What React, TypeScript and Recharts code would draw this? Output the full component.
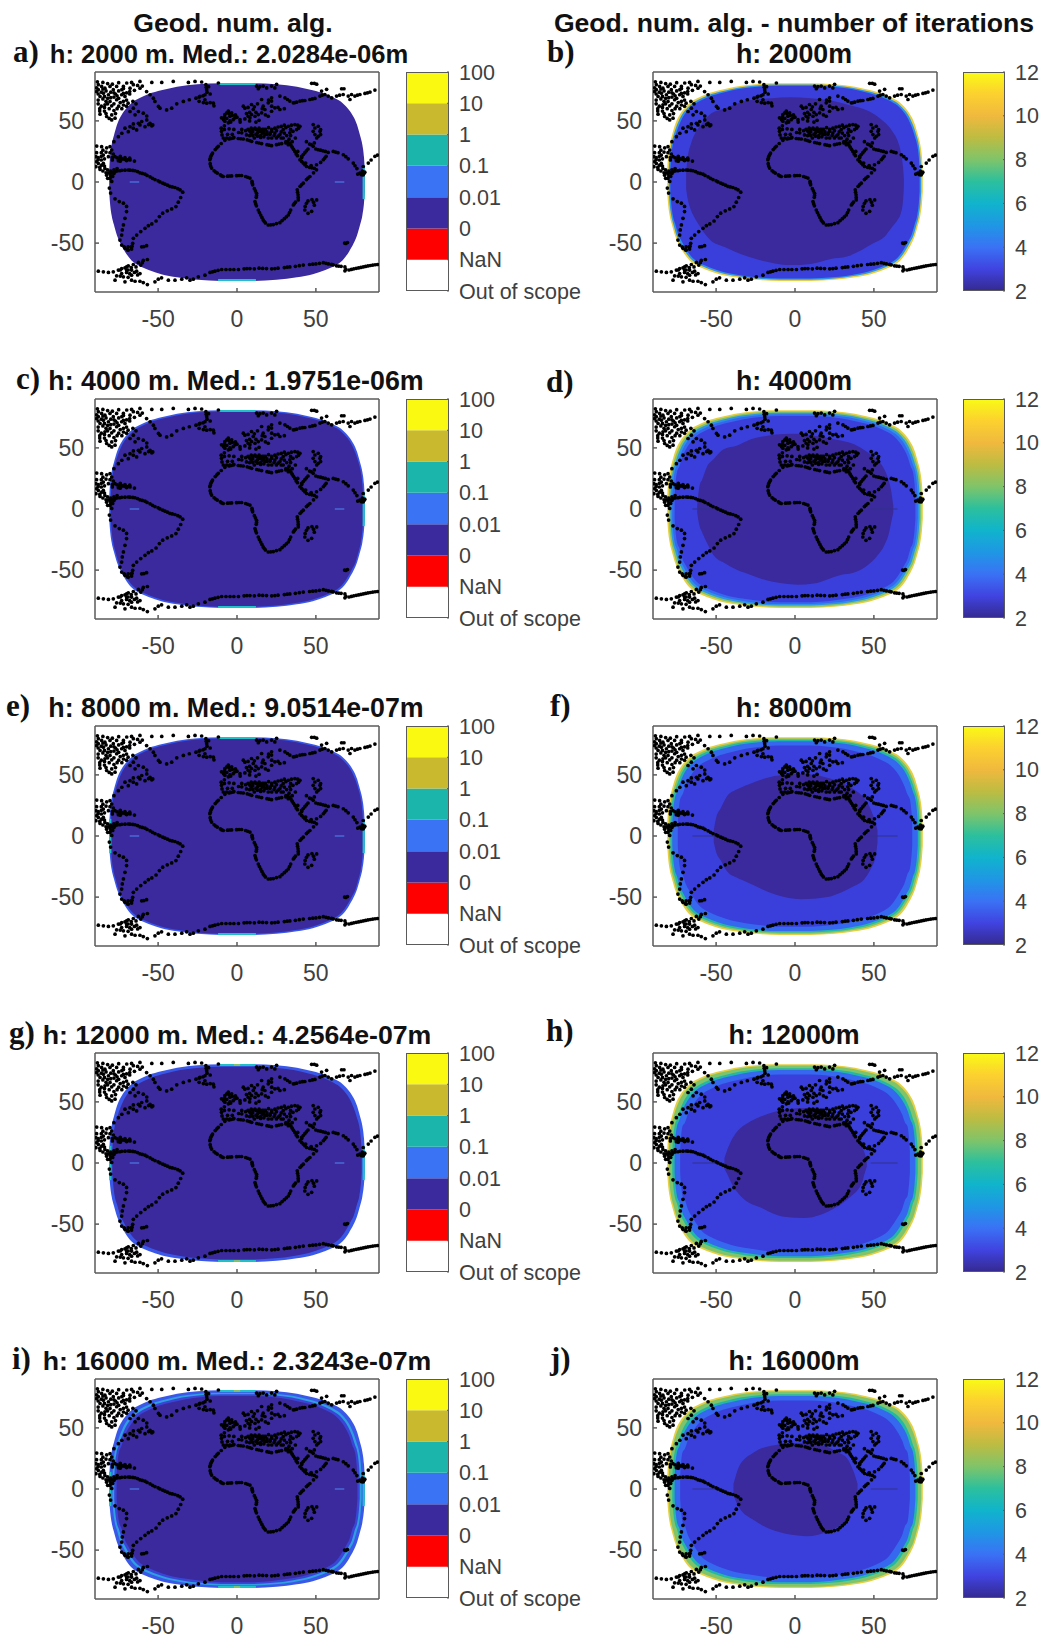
import React from "react";
import { ComposedChart, Area, Scatter, XAxis, YAxis, Bar, ReferenceLine } from "recharts";

type Pt = [number, number];
type Row = [number, number, number];

const arctic: Pt[] = [[-87.9,79.6],[-85.8,78.2],[-87.9,75.5],[-83.7,76.8],[-80.5,78.2],[-84.7,72.7],[-86.8,70],[-81.5,71.4],[-78.4,75.5],[-76.3,78.2],[-72,78.2],[-69.9,81],[-66.8,81.5],[-67.8,76.8],[-73.1,71.4],[-71,70],[-76.3,67.3],[-80.5,65.9],[-83.7,63.2],[-79.4,62.3],[-86.8,55.5],[-82.6,53.6],[-79.4,54.9],[-79.4,50.8],[-77.3,52.2],[-88.5,82],[-85,81.5],[-82,80.5],[-79,80],[-75,81.3],[-89,77],[-86,73.5],[-83,74.5],[-80,73.5],[-77,72],[-75,74.5],[-73,75.5],[-70,73],[-68,72],[-88,67],[-85,68],[-82,68.5],[-78,69.5],[-75,68.5],[-72,66],[-69,64.5],[-66,66],[-64,64],[-88,64],[-86,62],[-81,60],[-78,58.5],[-75,62],[-72,63],[-84,58],
[-61.5,82.3],[-54,81.5],[-47.7,81.5],[-40.4,82.3],[-30.8,81.5],[-26.6,82.3],[-22.4,81.8],[-11.8,81],[-65.7,79.6],[-61.5,76.8],[-57.3,74],[-55.1,71.4],[-53,68.6],[-52,65.9],[-49.8,61.8],[-48.8,60.4],[-44.6,59],[-41.4,60.4],[-38.2,64],[-34,65.9],[-30.2,67.3],[-26,68.6],[-23.5,70],[-20.3,71.4],[-19.2,75.5],[-19.7,79.6],[-19,73.5],[-19.5,77.5],[-21.5,70.5],[-20.3,67.3],[-19.2,64.5],[-15,64.5],[-14.6,62.3],[-21.3,65],[-24,69.5],
[-88,72],[-84,70],[-80,69],[-76,70.5],[-72,72.5],[-68,74],[-65,75],[-83,66],[-78,64],[-74,65],[-70,67],[-87,60],[-84,61],[-82,64],[-76,60],[-73,60],[-70,62],[-85,76],[-78,73],[-72,76.5],[-63,79],[-60,78.5],[-89,74],[-87,58],[-83,56],[-81,52],[-77,56],
[-18,78],[-17,72],[-17,65],[-24,66]];
const northAmerica: Pt[] = [[-53.4,46.7],[-55.1,48],[-57.2,50.8],[-60.4,49.5],[-62.5,48],[-65.7,47.5],[-67.8,45.3],[-71,44],[-73,39.9],[-75.2,37.1],[-78,33],[-80.5,28.9],[-58.3,45.3],[-63.6,42.6],[-61.5,46.7],[-65.7,44],[-68.9,41.2],[-57.2,54],[-59.4,56.3],[-62.5,57.7],[-65.7,60.4],[-67.8,57.7],[-64.6,55],[-54,46],[-56,47],
[-88.9,29.4],[-85.8,28.9],[-82.6,28],[-79.4,26.2],[-78.4,22.9],[-80.5,24],[-77.3,20.7],[-74.2,19.3],[-71,18.5],[-67.8,18],[-65,17.1],[-75.2,17.4],[-81.5,20.7],[-84.7,22],[-89.4,20.7],[-88.9,16.6],[-89.4,12.5],[-86.8,10.3],[-87.9,15.2],[-85.8,13.8],[-83.7,11],[-84.7,15.2],[-81.5,7.5],[-82.6,5.6],[-80.5,2.9],[-72.5,18.8],[-69.5,18.2],[-79,20],[-76,19.8],[-86,18],[-88,18.5],
[-85,26],[-83,24.5],[-86,24],[-79,18],[-74,17],[-70,17.5],[-84,19],[-87,12],[-85,9],[-83,7.5],[-84,13],[-82,10],[-80,9],[-78,7],[-88,20],[-86,21],[-74,21],[-71,20],[-68,19.5],[-73,19],[-78,10],[-76,11],[-89,24],[-82,3],[-80,5]];
const southAmerica: Pt[] = [[-80.5,7],[-77.3,8.4],[-74.2,9.2],[-71,9.7],[-67.8,9.7],[-64.6,9.2],[-61.5,7.5],[-58.3,6.4],[-55.1,4.2],[-52,2],[-48.8,0.1],[-45.6,-1.8],[-42.5,-3.6],[-39.3,-4.5],[-36.1,-6.4],[-34.4,-8.3],[-35.7,-12.7],[-37.2,-16.5],[-38.7,-20.1],[-41.4,-22],[-44.2,-23.6],[-47.1,-25.5],[-49.2,-28.3],[-51.3,-31.9],[-54,-34.3],[-56.2,-35.7],[-58.3,-37.9],[-61,-40.6],[-63.6,-43.4],[-65.7,-46.1],[-66.1,-50.2],[-66.8,-54.9],[-68.9,-55.7],[-71,-54.3],[-73.1,-51.6],[-74.2,-47.5],[-73.1,-43.4],[-72.7,-39.2],[-72,-35.1],[-71,-29.7],[-70,-24.2],[-70,-20],[-72,-17.3],[-74.6,-16],[-77.3,-13.8],[-80.1,-9.1],[-80.9,-5],[-79.4,0.5],[-78.8,4.6],[-60.4,-53],[-57.3,-52.1],[-59,-52.8],[-69,-53],[-67,-53],
[-79,7.5],[-76,9],[-73,9.6],[-69,9.8],[-66,9.5],[-63,8.5],[-60,7],[-57,5.4],[-53.5,3],[-50,1],[-47,-1],[-44,-2.6],[-41,-4],[-37.5,-5.5],[-69.5,-55.5],[-71.5,-53],[-66.5,-52.5]];
const antarctica: Pt[] = [[-87.9,-73],[-84.7,-73.5],[-81.5,-74],[-78.4,-73.5],[-75.2,-72.1],[-73.1,-70.8],[-71,-70.2],[-68.9,-68.6],[-65.7,-67.5],[-62.5,-65.8],[-59.4,-64.2],[-56.8,-63.4],[-70,-72.1],[-66.8,-72.1],[-63.6,-73],[-61.5,-74.9],[-73.1,-74.9],[-76.3,-76.8],[-77.3,-80.3],[-72,-77.6],[-66.8,-76.2],[-71,-81.7],[-66.8,-80.3],[-64.6,-81.2],[-61.5,-81.2],[-59.4,-82.3],[-56.8,-83.9],[-52,-81.7],[-49.9,-79.5],[-47.8,-78.4],[-43.5,-80.3],[-39.3,-80.3],[-35,-79.5],[-31.9,-78.4],[-27.7,-79.5],[-29.8,-80.3],[-24.5,-77.6],[-20.3,-76.2],[-17.1,-74],[-14,-73],[-9.7,-71.6],[-4.4,-71.6],[0.9,-71.6],[4.5,-71],[8.2,-70.8],[11,-71],[14,-70.5],[18.7,-70.8],[22,-71],[26,-70.5],[30,-70],[33.5,-69.5],[37,-69],[42,-68],[46,-67.5],[50,-67],[54.7,-66],[58,-67],[61,-67.8],[63.1,-68.6],[66,-69],[68.4,-69.5],[69,-71.5],[68.4,-72.7],[71,-72],[74,-71],[77,-70.3],[80,-69.5],[83,-68.7],[86,-68],[89,-67.5],[68.2,-50],[70,-49.5],[69,-50.3],
[-70,-74],[-68,-75],[-65,-74],[-63,-76],[-67,-70],[-64,-69.5],[-61,-68],[-74,-77],[-69,-78],[-74,-72],[-60,-66],[-69,-72],[-70,-69.5],
[6.3,-70.8],[16.3,-70.7],[24,-70.8],[31.8,-69.7],[39.5,-68.5],[48,-67.2],[52.3,-66.5],[56.4,-66.5],[60,-67.4],[64.5,-68.8],[72.5,-71.5],[75.5,-70.6],[78.5,-69.9],[81.5,-69.1],[84.5,-68.3],[87.5,-67.7],[-7,-71.6],[-2,-71.6],[-12,-72.3],[-15.5,-73.5]];
const africa: Pt[] = [[-7.7,34.1],[-10,31.5],[-11.9,29.2],[-13.8,26.5],[-15.5,23.7],[-16.6,21],[-17.2,18.2],[-17,15],[-16.1,11.4],[-14.5,9.2],[-12.5,7.3],[-10.5,5.8],[-8.7,4.5],[-6,4.8],[-3.4,5],[-0.3,5.2],[2.9,5.3],[5.5,4.5],[8.2,3.2],[9.5,0.5],[9.9,-2.3],[11,-5.5],[12.4,-9.2],[12.2,-12.5],[11.4,-16],[12.3,-19.5],[13.5,-22.9],[15,-27],[16.6,-31],[18,-33.5],[19.8,-35.2],[23,-34.8],[27.2,-33.3],[30,-30],[32.5,-27],[34,-23],[35.7,-18.8],[37,-16.5],[38.8,-14.7],[38.7,-10.5],[38.2,-6.4],[40,-3.5],[42,-1],[44,2],[46.2,4.5],[48.5,7.5],[50.4,10],[49,11.2],[46,12],[44.1,12.7],[42,15.5],[39.9,18.2],[38.3,21.5],[36.7,25],[35,28.5],[33.5,31.9],[32,33],[-5,35.2],[-2.4,36],[0.8,35.6],[4,35.2],[6.5,34.5],[9.3,33.3],[12.5,32.3],[15.6,31.4],[19,30.5],[21.9,29.7],[25,30.5],[28.3,31.4],[31,32],
[44,-17.4],[43,-22.9],[45,-25.6],[47.3,-24],[43.2,-20],[49,-19],[50.5,-14.7],[47.5,-14.5],[45,-15.5],[48.5,-16.5],
[-12.8,28],[-16,22.5],[-16.9,19.5],[-16.7,13],[-13.5,8.2],[-9.6,5],[-4.7,4.9],[1.3,5.3],[6.8,3.9],[9.7,-1],[11.7,-7.3],[12.4,-11],[11.8,-17.7],[14.2,-25],[15.8,-29],[17.3,-32.3],[21.4,-35],[25,-34],[28.6,-31.6],[31.3,-28.5],[33.3,-25],[36.3,-17.7],[38.8,-12.6],[38.4,-8.4],[41,-2.2],[45,3.2],[47.5,11.6],[43,14.2],[41,16.8],[37.5,23],[35.8,26.8],[34.2,30.2],
[-3.7,35.6],[2.4,35.4],[8,33.9],[14,31.9],[20.4,30.1],[26.6,31]];
const asia: Pt[] = [[50.4,14.1],[47,13.5],[53,16],[54.7,18.2],[56.5,21],[57.8,24.2],[54.5,25.5],[51.5,26.4],[48.3,29.2],[47,30.5],[45,27],[43,24],[41,21],[46,31],[44,33],[38.5,25],[41,20],[43.5,15.5],[50,27],[49,32],
[61,25],[64,24],[67.4,22.3],[70.5,19],[73.7,15.5],[76,11],[77.9,7.3],[79,6],[80,5.9],[81,8],[80,12.7],[83.2,15.5],[85,18],[87.4,21],[89,22],[80.5,7],[79.5,9],
[48.3,47],[51.5,45.6],[52.6,41.5],[49.4,38.8],[50.5,36],[53,38.8],[49.4,44.2],[48.3,41.5],[51.5,37.4],[53,42.9],
[55.6,19.6],[56,25],[53,26],[42,22.5],[44,25.5],[62.5,24.5],[69,20.7],[74.8,13.3],[78.5,6.5],[78.8,7],[76.5,6.5]];
const europe: Pt[] = [[-9.8,41.5],[-9.5,38.5],[-8.7,36],[-6.5,36],[-4.5,36],[-2,36.5],[-10,44],[-8,46],[-5,43.5],[-2,43],[1,40.5],[3,40.2],[5.5,42],[8.2,41.5],[10,43],[11.4,44.2],[13,42.5],[14.5,41.5],[16,40],[17.7,38.8],[19.8,36],[20.9,38.8],[22,41.5],[23.5,38],[25,36],[26,37.5],[27.2,38.8],[28,41],[29.3,42.9],[31,44.5],[32.5,45.6],[34.5,46.5],[36.7,47],[38.5,46.5],[39.9,45.6],[39,44],[37.8,42.9],[35.5,41.5],[33.5,40.2],[31.5,38],[29.3,36],[31,33],[32.5,30.5],
[9,40],[10,38],[11,36],[12,39],[13,37.5],[14,44],[15,38],[16,43],[17,41],[18,43],[15,36.5],[12,43],[19,39],[24,44],[26,45],[28,45.5],[30,46.5],[22,43],[20,44.5],[10,41],[13,40],[8,38],[6,38.5],
[-9.8,52.5],[-7.7,55.2],[-5.5,58],[-3.4,56.6],[-2.4,51],[-5.5,48.4],[-7.7,49.7],[-4.5,53.8],[-1.3,52.5],[1.9,51],[5,51.6],[7.1,53.8],[9.2,55.2],[8.2,52.5],[11.4,53.8],[10.3,59.3],[13.5,55.2],[15.6,56.6],[17.7,59.3],[16.6,62],[19.8,64.8],[21.9,66.2],[24,60.7],[27.2,59.3],[21.9,57.9],[19.8,53.8],[4,62],[9.2,63.4],[15.6,67.5],[21.9,68.9],[5,60.4],[-6.5,52],[-8.5,51],[-6.5,56.5],[-4.5,50],[-3,54.5],
[27.2,70.3],[30.4,68.9],[33.5,66.2],[35.7,64.8],[37.8,65.3],[39.9,66.2],[43,66.7],[46.2,67.5],[49.4,68.4],[52.6,70.3],[55.7,71.6],[53.6,74.4],[56.8,75.8],[57.8,70.3],[60,68.9],[63.1,70.3],[66.3,76.3],[67.8,76.3],[67.3,71.6],[71.6,67.5],[72.6,71.6],[74.7,70.3],[77.9,71.6],[81.1,72.5],[84.3,73.6],[87.4,75.2],[70.5,70.3],
[12.4,78.5],[14.5,78],[16.6,78.5],[18.8,77],[21.9,78.5],[25.1,79.9],[13.5,76.3],[24,77],[47.3,80.7],[49,80.7],[50.5,80],
[-8,53],[-5,56],[-1,55],[0,53],[-4,49],[2,49],[8,50],[12,49],[14,50.5],[12,57],[8,57],[6,56],[18,55],[16,60],[22,62],[20,67],[26,61],[30,60],[7,61],[11,61.5],[13,64],
[7,43],[9,44],[3,43],[-3,39],[-6,39],[-8,43],[15,42],[17,43],[19,41],[21,40],[25,42],[24,40],[30,40],[34,43],[34,38],[33,35],[35,33],[37,36],[28,36],[22,36],[17,37],
[32,67.5],[36.7,65],[41.5,66.5],[47.8,68],[54,71],[65,71],[76.3,71],[82.7,73]];

const ringA: Row[] = [[-81,-8,10],[-80.5,-17,20],[-79.5,-27,30],[-78,-35,38],[-76,-44,47],[-74,-50,53],[-71,-57,59],[-67,-64,64.5],[-62,-68.5,68.5],[-56,-72,72],[-48,-75.5,75],[-38,-78,78],[-25,-80,80],[-10,-81,80.7],[10,-81,80.7],[25,-80,80],[38,-78,78],[48,-75.5,75],[56,-72,72],[62,-68.5,68.5],[67,-64,64.5],[71,-57,59],[74,-50,53],[76,-44,47],[78,-35,38],[79.5,-27,30],[80.5,-17,20],[81,-8,10]];
const ringB: Row[] = [[-80,-8,10],[-79.5,-17,20],[-78.5,-27,30],[-77,-35,38],[-75,-44,46],[-73,-49,52],[-70,-56,58],[-66,-63,63.5],[-61,-67.5,67.5],[-55,-71,71],[-47,-74.5,74],[-37,-77,77],[-25,-79,79],[-10,-80,79.7],[10,-80,79.7],[25,-79,79],[37,-77,77],[47,-74.5,74],[55,-71,71],[61,-67.5,67.5],[66,-63,63.5],[70,-56,58],[73,-49,52],[75,-44,46],[77,-35,38],[78.5,-27,30],[79.5,-17,20],[80,-8,10]];
const ringC: Row[] = [[-79,-8,10],[-78.5,-17,20],[-77.5,-27,30],[-76,-34,37],[-74,-43,45],[-72,-48,51],[-69,-55,57],[-65,-62,62.5],[-60,-66.5,66.5],[-54,-70,70],[-46,-73.5,73],[-36,-76,76],[-24,-78,78],[-10,-79,78.7],[10,-79,78.7],[24,-78,78],[36,-76,76],[46,-73.5,73],[54,-70,70],[60,-66.5,66.5],[65,-62,62.5],[69,-55,57],[72,-48,51],[74,-43,45],[76,-34,37],[77.5,-27,30],[78.5,-17,20],[79,-8,10]];
const ringD: Row[] = [[-77.8,-8,10],[-77.3,-17,20],[-76.3,-27,30],[-74.8,-33,36],[-72.8,-42,44],[-70.8,-47,50],[-67.8,-54,56],[-63.8,-61,61.3],[-58.8,-65.3,65.3],[-52.8,-68.8,68.8],[-44.8,-72.3,71.8],[-34.8,-74.8,74.8],[-23,-76.8,76.8],[-10,-77.8,77.5],[10,-77.8,77.5],[23,-76.8,76.8],[34.8,-74.8,74.8],[44.8,-72.3,71.8],[52.8,-68.8,68.8],[58.8,-65.3,65.3],[63.8,-61,61.3],[67.8,-54,56],[70.8,-47,50],[72.8,-42,44],[74.8,-33,36],[76.3,-27,30],[77.3,-17,20],[77.8,-8,10]];
const ringE: Row[] = [[-76.3,-8,10],[-75.8,-17,20],[-74.8,-27,30],[-73.3,-32,35],[-71.3,-41,43],[-69.3,-46,48.5],[-66.3,-52.5,54.5],[-62.3,-59.5,60],[-57.3,-63.8,63.8],[-51.3,-67.3,67.3],[-43.3,-70.8,70.3],[-33.3,-73.3,73.3],[-22,-75.3,75.3],[-10,-76.3,76],[10,-76.3,76],[22,-75.3,75.3],[33.3,-73.3,73.3],[43.3,-70.8,70.3],[51.3,-67.3,67.3],[57.3,-63.8,63.8],[62.3,-59.5,60],[66.3,-52.5,54.5],[69.3,-46,48.5],[71.3,-41,43],[73.3,-32,35],[74.8,-27,30],[75.8,-17,20],[76.3,-8,10]];
const ringF: Row[] = [[-74.3,-8,10],[-73.8,-17,20],[-72.8,-27,30],[-71.3,-31,34],[-69.3,-39,41],[-67.3,-44,46.5],[-64.3,-50.5,52.5],[-60.3,-57.5,58],[-55.3,-61.8,61.8],[-49.3,-65.3,65.3],[-41.3,-68.8,68.3],[-31.3,-71.3,71.3],[-20,-73.3,73.3],[-10,-74.3,74],[10,-74.3,74],[20,-73.3,73.3],[31.3,-71.3,71.3],[41.3,-68.8,68.3],[49.3,-65.3,65.3],[55.3,-61.8,61.8],[60.3,-57.5,58],[64.3,-50.5,52.5],[67.3,-44,46.5],[69.3,-39,41],[71.3,-31,34],[72.8,-27,30],[73.8,-17,20],[74.3,-8,10]];
const ringG: Row[] = [[-72.8,-8,10],[-72.3,-17,20],[-71.3,-27,30],[-69.8,-30,33],[-67.8,-38,40],[-65.8,-43,45],[-62.8,-49,51],[-58.8,-56,56.5],[-53.8,-60.3,60.3],[-47.8,-63.8,63.8],[-39.8,-67.3,66.8],[-29.8,-69.8,69.8],[-19,-71.8,71.8],[-10,-72.8,72.5],[10,-72.8,72.5],[19,-71.8,71.8],[29.8,-69.8,69.8],[39.8,-67.3,66.8],[47.8,-63.8,63.8],[53.8,-60.3,60.3],[58.8,-56,56.5],[62.8,-49,51],[65.8,-43,45],[67.8,-38,40],[69.8,-30,33],[71.3,-27,30],[72.3,-17,20],[72.8,-8,10]];

const darkB: Row[] = [[-69,-6,8],[-68,-14,20],[-66,-23,31],[-64,-28.5,38],[-60,-37,46],[-53.6,-47.6,55.7],[-45,-53,60],[-30,-61,66.6],[-15,-66,68.5],[-3,-68,69.3],[10,-67,68.5],[22.7,-63,66.6],[33,-61,63.5],[50,-50,55.7],[56.6,-45,49],[62,-36,41],[65,-31,34],[67,-26,25],[68.5,-15,12],[69,-4,3]];
const darkD: Row[] = [[-62,-3,3],[-60.5,-14,19],[-58.9,-19,24],[-55.7,-28,35],[-51.5,-38,41],[-45,-44,49],[-36.6,-50,52],[-28,-54,57],[-17.6,-58.6,60],[-7,-61,61.4],[1.5,-62,61.5],[12,-61,60],[29,-54,56],[37.5,-52,53],[46,-46,46.4],[52.3,-38,40],[56.5,-30,32.7],[59.7,-19,22],[60.8,-12,16],[62.3,-3,3]];
const darkF: Row[] = [[-51.5,-5,5],[-50,-13,15],[-47,-20,23],[-43,-29,32.7],[-37,-34,38],[-30,-38,42],[-13,-47.7,49],[3.6,-51.8,51],[20.5,-50,47.7],[29,-46.4,44],[37.5,-41,38],[43.8,-35.5,31],[48,-27,21.8],[51.2,-16.4,10],[52.3,-5,5]];
const darkH: Row[] = [[-44.7,-5,4],[-42.6,-10,12],[-40.9,-15,17],[-34.5,-27,28.6],[-32,-30,31],[-21.8,-36.5,38],[-7,-44,43.6],[5.7,-45,45],[16.3,-42.3,43],[20.5,-40,41],[33,-30,31],[35.4,-27.5,28.6],[42.8,-15,12],[43.8,-10,9.5],[45.5,-3,2]];
const darkJ: Row[] = [[-39,-4,4],[-37.5,-10,11],[-35.6,-14.7,18],[-26,-25.6,30],[-13.3,-34,35.7],[1.5,-38,37.6],[7.8,-38.7,37],[20.5,-35,34.4],[27,-31,30],[33.2,-24,24.8],[37.5,-14.7,13],[39.6,-5,4.4]];

const stripTop: Row[] = [[-12,79.4,81],[12,79.4,81]];
const stripBottom: Row[] = [[-12,-81,-79.4],[12,-81,-79.4]];
const stripLeft: Row[] = [[-81,-14,14],[-79.6,-14,14]];
const stripRight: Row[] = [[79.6,-14,14],[81,-14,14]];
const speckTop: Row[] = [[-2,79.4,81],[2,79.4,81]];
const speckBottom: Row[] = [[-2,-81,-79.4],[2,-81,-79.4]];

const YELLOW = "#e6cf45", GREEN = "#7fc46a", TEAL = "#23b8a6", SKY = "#2d93e8", LIGHT = "#3568ef", MID = "#3a3fdc", DARK = "#3a2a9e", CYAN = "#1fc0c8", EDGE = "#3a58e8", THIN = "#2f9fe0", INNER = "#3a45d8";

type Layer = { rows: Row[]; color: string };
const coast = [...arctic, ...northAmerica, ...southAmerica, ...antarctica, ...africa, ...asia, ...europe].map(([x, y]) => ({ x, y }));

const rowTops = [72, 399, 726, 1053, 1379];
const leftTitles = ["h: 2000 m. Med.: 2.0284e-06m", "h: 4000 m. Med.: 1.9751e-06m", "h: 8000 m. Med.: 9.0514e-07m", "h: 12000 m. Med.: 4.2564e-07m", "h: 16000 m. Med.: 2.3243e-07m"];
const leftTitleX = [229, 236, 236, 237, 237];
const leftTitleSize = [25.6, 26.8, 26.8, 26.7, 26.7];
const rightTitles = ["h: 2000m", "h: 4000m", "h: 8000m", "h: 12000m", "h: 16000m"];
const leftLetters: [string, number, number][] = [["a)", 13, 52], ["c)", 16, 379], ["e)", 6, 706], ["g)", 9, 1033], ["i)", 12, 1359]];
const rightLetters: [string, number, number][] = [["b)", 547, 52], ["d)", 546, 382], ["f)", 550, 706], ["h)", 546, 1031], ["j)", 550, 1359]];
const scaleLabels = ["Out of scope", "NaN", "0", "0.01", "0.1", "1", "10", "100"];
const scaleColors = ["#ffffff", "#ff0000", "#3a2a9e", "#3a74f5", "#1cb5ab", "#c8b92e", "#f9f911"];
const scaleSegments = [{ name: "s", s0: 1, s1: 1, s2: 1, s3: 1, s4: 1, s5: 1, s6: 1 }];
const parulaStops: [string, string][] = [["0%", "#f9fb15"], ["10%", "#fcd12f"], ["20%", "#f0b93e"], ["30%", "#bdbc42"], ["40%", "#7fc46a"], ["50%", "#2cbf9e"], ["60%", "#10b4cc"], ["70%", "#1f97e4"], ["80%", "#3a72f5"], ["90%", "#4043e0"], ["100%", "#35298f"]];
const iterBar = [{ name: "i", v: [2, 12] }];
const iterTicks = [2, 4, 6, 8, 10, 12];

const leftLayers: Layer[][] = [
  [{ rows: ringA, color: DARK }, { rows: stripTop, color: CYAN }, { rows: stripBottom, color: CYAN }, { rows: stripRight, color: CYAN }],
  [{ rows: ringA, color: EDGE }, { rows: ringB, color: DARK }, { rows: stripTop, color: CYAN }, { rows: stripBottom, color: CYAN }, { rows: stripRight, color: CYAN }],
  [{ rows: ringA, color: EDGE }, { rows: ringB, color: DARK }, { rows: stripTop, color: CYAN }, { rows: stripBottom, color: CYAN }, { rows: stripRight, color: CYAN }, { rows: stripLeft, color: CYAN }],
  [{ rows: ringA, color: EDGE }, { rows: ringC, color: DARK }, { rows: stripTop, color: CYAN }, { rows: stripBottom, color: CYAN }, { rows: speckTop, color: GREEN }, { rows: speckBottom, color: GREEN }, { rows: stripRight, color: CYAN }, { rows: stripLeft, color: CYAN }],
  [{ rows: ringA, color: EDGE }, { rows: ringC, color: THIN }, { rows: ringD, color: INNER }, { rows: ringE, color: DARK }, { rows: stripTop, color: CYAN }, { rows: stripBottom, color: CYAN }, { rows: speckTop, color: GREEN }, { rows: speckBottom, color: GREEN }, { rows: stripRight, color: CYAN }, { rows: stripLeft, color: CYAN }],
];
const rightLayers: Layer[][] = [
  [{ rows: ringA, color: YELLOW }, { rows: ringB, color: SKY }, { rows: ringC, color: MID }, { rows: darkB, color: DARK }],
  [{ rows: ringA, color: YELLOW }, { rows: ringB, color: GREEN }, { rows: ringC, color: SKY }, { rows: ringD, color: LIGHT }, { rows: ringE, color: MID }, { rows: darkD, color: DARK }],
  [{ rows: ringA, color: YELLOW }, { rows: ringB, color: GREEN }, { rows: ringC, color: TEAL }, { rows: ringD, color: LIGHT }, { rows: ringF, color: MID }, { rows: darkF, color: DARK }],
  [{ rows: ringA, color: YELLOW }, { rows: ringB, color: GREEN }, { rows: ringD, color: TEAL }, { rows: ringE, color: LIGHT }, { rows: ringG, color: MID }, { rows: darkH, color: DARK }],
  [{ rows: ringA, color: YELLOW }, { rows: ringB, color: GREEN }, { rows: ringD, color: TEAL }, { rows: ringE, color: LIGHT }, { rows: ringG, color: MID }, { rows: darkJ, color: DARK }],
];
const leftDash = [-68, -62, 62, 68];
const rightDash = [-65, -48, 48, 65];

const FONT = '"Liberation Sans", Arial, sans-serif';
const AXIS = "#5a5a5a";
const TEXT = "#404040";
const dot = (p: any) => <circle cx={p.cx} cy={p.cy} r={1.85} fill="#000" />;

function MapPanel({ left, top, layers, dash, dashColor }: { left: number; top: number; layers: Layer[]; dash: number[] | null; dashColor: string }) {
  const tickStyle = { fontSize: 23, fontFamily: FONT, fill: TEXT };
  return (
    <div style={{ position: "absolute", left: left - 70, top: top - 2 }}>
      <ComposedChart width={70 + 284 + 2} height={2 + 220 + 44} margin={{ top: 0, right: 0, bottom: 0, left: 0 }}>
        <XAxis type="number" dataKey="x" domain={[-90, 90]} ticks={[-50, 0, 50]} allowDataOverflow height={44} tick={tickStyle} tickSize={-4} tickMargin={23} stroke={AXIS} strokeWidth={1.5} />
        <XAxis xAxisId="t" orientation="top" type="number" dataKey="x" domain={[-90, 90]} ticks={[-50, 0, 50]} height={2} tick={false} tickSize={-4} stroke={AXIS} strokeWidth={1.5} />
        <YAxis type="number" dataKey="y" domain={[-90, 90]} ticks={[-50, 0, 50]} allowDataOverflow width={70} tick={tickStyle} tickSize={-4} tickMargin={15} stroke={AXIS} strokeWidth={1.5} />
        <YAxis yAxisId="r" orientation="right" type="number" dataKey="y" domain={[-90, 90]} ticks={[-50, 0, 50]} width={2} tick={false} tickSize={-4} stroke={AXIS} strokeWidth={1.5} />
        {layers.map((l, i) => (
          <Area key={i} data={l.rows.map(([x, lo, hi]) => ({ x, r: [lo, hi] }))} dataKey="r" type="monotone" stroke="none" fill={l.color} fillOpacity={1} dot={false} activeDot={false} isAnimationActive={false} />
        ))}
        {dash && <ReferenceLine segment={[{ x: dash[0], y: 0 }, { x: dash[1], y: 0 }]} stroke={dashColor} strokeWidth={1} />}
        {dash && <ReferenceLine segment={[{ x: dash[2], y: 0 }, { x: dash[3], y: 0 }]} stroke={dashColor} strokeWidth={1} />}
        <Scatter data={coast} shape={dot} isAnimationActive={false} />
      </ComposedChart>
    </div>
  );
}

function Frame({ width }: { width: number }) {
  return <div style={{ position: "absolute", left: 0, top: 16, width, height: 219, boxSizing: "border-box", border: `1.5px solid ${AXIS}`, pointerEvents: "none" }} />;
}

function ScaleBar({ left, top }: { left: number; top: number }) {
  return (
    <div style={{ position: "absolute", left, top: top - 16 }}>
      <ComposedChart width={175} height={219 + 32} data={scaleSegments} barCategoryGap={0} margin={{ top: 16, right: 0, bottom: 16, left: 0 }}>
        <XAxis dataKey="name" hide />
        <YAxis orientation="right" type="number" domain={[0, 7]} ticks={[0, 1, 2, 3, 4, 5, 6, 7]} tickFormatter={(v: number) => scaleLabels[v]} width={132} interval={0} axisLine={false} tick={{ fontSize: 21.5, fontFamily: FONT, fill: TEXT, textAnchor: "start" }} tickSize={-2} tickMargin={12} stroke={AXIS} />
        {scaleColors.map((c, i) => (
          <Bar key={i} dataKey={`s${i}`} stackId="a" fill={c} isAnimationActive={false} />
        ))}
      </ComposedChart>
      <Frame width={43} />
    </div>
  );
}

function IterBar({ left, top, id }: { left: number; top: number; id: string }) {
  return (
    <div style={{ position: "absolute", left, top: top - 16 }}>
      <ComposedChart width={84} height={219 + 32} data={iterBar} barCategoryGap={0} margin={{ top: 16, right: 0, bottom: 16, left: 0 }}>
        <defs>
          <linearGradient id={id} x1="0" y1="0" x2="0" y2="1">
            {parulaStops.map(([o, c]) => <stop key={o} offset={o} stopColor={c} />)}
          </linearGradient>
        </defs>
        <XAxis dataKey="name" hide />
        <YAxis orientation="right" type="number" domain={[2, 12]} ticks={iterTicks} width={42} interval={0} axisLine={false} tick={{ fontSize: 21.5, fontFamily: FONT, fill: TEXT, textAnchor: "start" }} tickSize={-2} tickMargin={12} stroke={AXIS} />
        <Bar dataKey="v" fill={`url(#${id})`} isAnimationActive={false} />
      </ComposedChart>
      <Frame width={42} />
    </div>
  );
}

function Title({ x, y, size, children }: { x: number; y: number; size: number; children: React.ReactNode }) {
  return <div style={{ position: "absolute", left: x, top: y, transform: "translate(-50%,-50%)", whiteSpace: "nowrap", font: `bold ${size}px ${FONT}`, color: "#111" }}>{children}</div>;
}
function Letter({ t, x, y }: { t: string; x: number; y: number }) {
  return <div style={{ position: "absolute", left: x, top: y, transform: "translateY(-50%)", whiteSpace: "nowrap", font: 'bold 31px "Liberation Serif", serif', color: "#111" }}>{t}</div>;
}

export default function App() {
  return (
    <div style={{ position: "absolute", left: 0, top: 0, width: 1047, height: 1639, background: "#fff", overflow: "hidden" }}>
      {rowTops.map((top, i) => (
        <React.Fragment key={i}>
          <MapPanel left={95} top={top} layers={leftLayers[i]} dash={leftDash} dashColor="#4f8cf0" />
          <ScaleBar left={406} top={top} />
          <MapPanel left={653} top={top} layers={rightLayers[i]} dash={i === 0 ? null : rightDash} dashColor="#33308a" />
          <IterBar left={963} top={top} id={`parula${i}`} />
          <Title x={leftTitleX[i]} y={top - 18} size={leftTitleSize[i]}>{leftTitles[i]}</Title>
          <Title x={794} y={top - 18} size={26.8}>{rightTitles[i]}</Title>
          <Letter t={leftLetters[i][0]} x={leftLetters[i][1]} y={leftLetters[i][2]} />
          <Letter t={rightLetters[i][0]} x={rightLetters[i][1]} y={rightLetters[i][2]} />
        </React.Fragment>
      ))}
      <Title x={233} y={23} size={26.6}>Geod. num. alg.</Title>
      <Title x={794} y={23} size={26.6}>Geod. num. alg. - number of iterations</Title>
    </div>
  );
}
